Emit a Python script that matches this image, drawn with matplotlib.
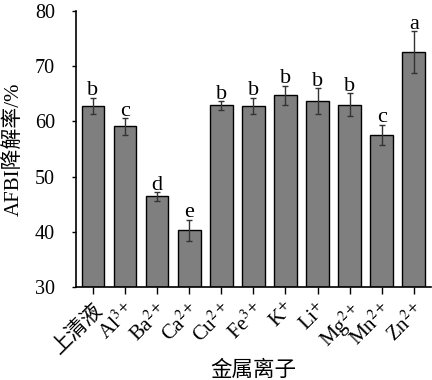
import matplotlib
matplotlib.use("Agg")
import matplotlib.pyplot as plt

plt.rcParams['font.family'] = ['Liberation Serif', 'Noto Sans CJK SC']
plt.rcParams['mathtext.fontset'] = 'stix'

categories = ['上清液', r'Al$^{3+}$', r'Ba$^{2+}$', r'Ca$^{2+}$', r'Cu$^{2+}$', r'Fe$^{3+}$',
              r'K$^{+}$', r'Li$^{+}$', r'Mg$^{2+}$', r'Mn$^{2+}$', r'Zn$^{2+}$']
values = [62.8, 59.1, 46.4, 40.3, 62.9, 62.8, 64.7, 63.7, 63.0, 57.6, 72.5]
errors = [1.5, 1.5, 0.8, 1.9, 0.8, 1.5, 1.8, 2.3, 2.1, 1.8, 3.8]
letters = ['b', 'c', 'd', 'e', 'b', 'b', 'b', 'b', 'b', 'c', 'a']
yticks = [30, 40, 50, 60, 70, 80]

fig = plt.figure(figsize=(4.32, 3.8), dpi=100)
ax = fig.add_axes([0.175, 0.245, 0.823, 0.726])
x = list(range(len(categories)))
ax.bar(x, [v - 30 for v in values], bottom=30, width=0.71, color='#7f7f7f',
       edgecolor='black', linewidth=1.0, zorder=2)
ax.errorbar(x, values, yerr=errors, fmt='none', ecolor='#333333', elinewidth=1.0,
            capsize=2.5, capthick=1.0, zorder=3)
for xi, v, e, l in zip(x, values, errors, letters):
    ax.text(xi, v + e + 0.4, l, ha='center', va='baseline', fontsize=16)

ax.set_ylim(30, 80)
ax.set_xlim(-0.54, 10.54)
ax.set_yticks(yticks)
ax.set_xticks(x)
ax.set_xticklabels(categories, rotation=45, ha='right', rotation_mode='anchor', fontsize=15)
ax.tick_params(axis='y', labelsize=14.5, direction='out', length=3, width=1, pad=12)
ax.tick_params(axis='x', direction='out', length=5, width=1, pad=4)
for s in ['top', 'right']:
    ax.spines[s].set_visible(False)
for s in ['left', 'bottom']:
    ax.spines[s].set_linewidth(1.2)
ax.set_ylabel('AFBI降解率/%', fontsize=15, labelpad=8)
ax.set_xlabel('金属离子', fontsize=15.5, labelpad=2)

fig.savefig('out.png', dpi=100)
